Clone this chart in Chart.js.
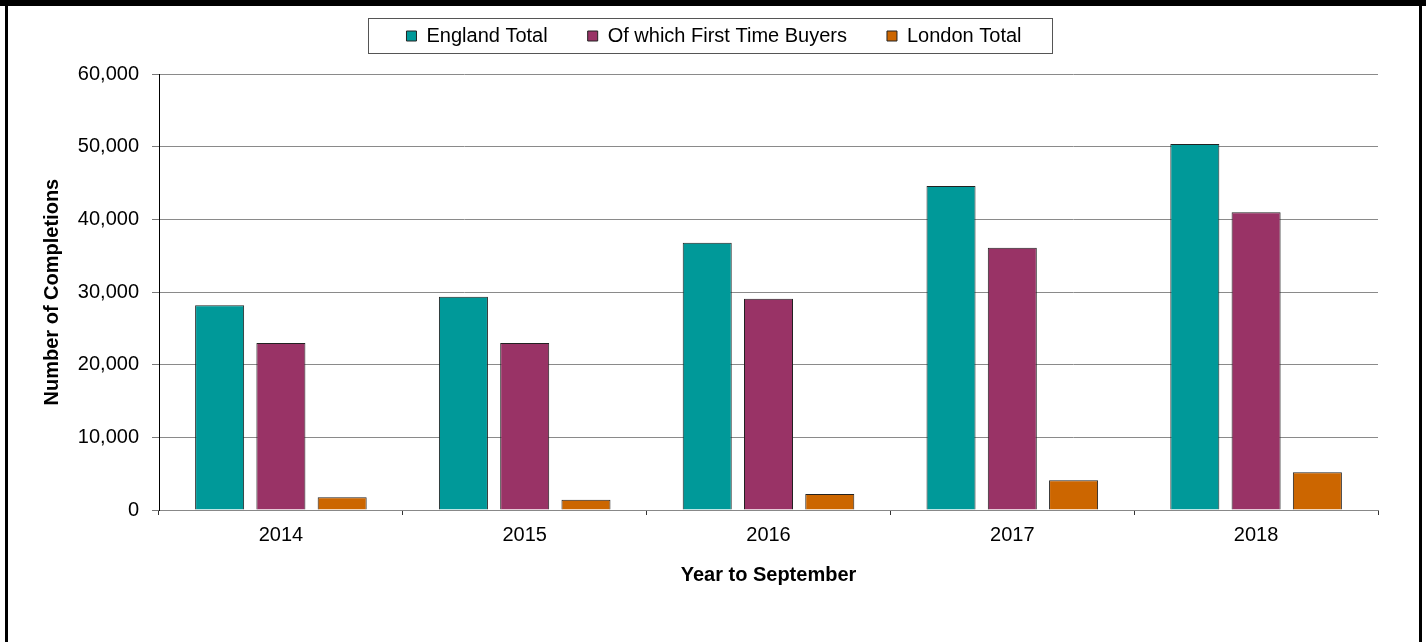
<!DOCTYPE html>
<html lang="en">
<head>
<meta charset="utf-8">
<title>Completions - Year to September</title>
<script src="https://cdn.jsdelivr.net/npm/chart.js@4.4.1/dist/chart.umd.min.js"></script>
<style>
    html, body { margin: 0; padding: 0; background: #fff; }
    #wrap { position: relative; width: 1426px; height: 642px; overflow: hidden; }
    #completionsChart { position: absolute; left: 0; top: 0; }
    .frame { position: absolute; background: #000; pointer-events: none; }
</style>
</head>
<body>
<div id="wrap">
    <canvas id="completionsChart" width="1426" height="642"></canvas>
    <div class="frame" style="left:0;top:0;width:1426px;height:6px;"></div>
    <div class="frame" style="left:5px;top:0;width:3px;height:642px;"></div>
    <div class="frame" style="left:1419px;top:0;width:3px;height:642px;"></div>
</div>
<script>
// values
const years = ['2014', '2015', '2016', '2017', '2018'];
const englandTotal = [28200, 29350, 36800, 44600, 50400];
const firstTimeBuyers = [23000, 23000, 29100, 36100, 41000];
const londonTotal = [1750, 1400, 2200, 4100, 5200];
const yTicks = [0, 10000, 20000, 30000, 40000, 50000, 60000];

(function () {
    'use strict';

    document.addEventListener('DOMContentLoaded', function () {
        const canvas = document.getElementById('completionsChart');
        if (!canvas) {
            return;
        }

        const fontFamily = '"Liberation Sans", Arial, sans-serif';

        // nudges the legend a little right and draws the thin frame round it
        const legendFrame = {
            id: 'legendFrame',
            afterLayout(chart) {
                if (chart.legend) {
                    chart.legend.left += 9;
                    chart.legend.right += 9;
                }
            },
            afterDraw(chart) {
                const boxes = chart.legend && chart.legend.legendHitBoxes;
                if (!boxes || !boxes.length) {
                    return;
                }
                const left = Math.min(...boxes.map(b => b.left)) - 38;
                const right = Math.max(...boxes.map(b => b.left + b.width)) + 31;
                const ctx = chart.ctx;
                ctx.save();
                ctx.strokeStyle = '#555';
                ctx.lineWidth = 1;
                ctx.strokeRect(Math.round(left) + 0.5, 18.5, Math.round(right - left), 35);
                ctx.restore();
            }
        };

        const barStyle = { borderColor: '#222', borderWidth: 1 };

        new Chart(canvas.getContext('2d'), {
            type: 'bar',
            data: {
                labels: years,
                datasets: [
                    Object.assign({ label: 'England Total', data: englandTotal, backgroundColor: '#009999' }, barStyle),
                    Object.assign({ label: 'Of which First Time Buyers', data: firstTimeBuyers, backgroundColor: '#993366' }, barStyle),
                    Object.assign({ label: 'London Total', data: londonTotal, backgroundColor: '#cc6600' }, barStyle)
                ]
            },
            options: {
                responsive: false,
                animation: false,
                categoryPercentage: 0.754,
                barPercentage: 0.8,
                layout: { padding: { left: 32, right: 48, top: -14, bottom: 50 } },
                plugins: {
                    legend: {
                        position: 'top',
                        labels: {
                            boxWidth: 10,
                            boxHeight: 10,
                            padding: 40,
                            color: '#000',
                            font: { family: fontFamily, size: 20 }
                        }
                    },
                    // empty title used as a spacer between legend and plot
                    title: {
                        display: true,
                        text: '',
                        weight: 500,
                        font: { size: 1 },
                        padding: { top: 0, bottom: 17 }
                    },
                    tooltip: { enabled: false }
                },
                scales: {
                    x: {
                        afterFit: function (scale) { scale.height = 82; },
                        grid: { offset: true, drawOnChartArea: false, tickLength: 5, color: '#333' },
                        border: { color: '#888', width: 1 },
                        ticks: { color: '#000', padding: 8, font: { family: fontFamily, size: 20 } },
                        title: {
                            display: true,
                            text: 'Year to September',
                            color: '#000',
                            padding: { top: 0, bottom: 5 },
                            font: { family: fontFamily, size: 20, weight: 'bold' }
                        }
                    },
                    y: {
                        min: 0,
                        max: 60000,
                        afterFit: function (scale) { scale.width = 127; },
                        afterBuildTicks: function (scale) {
                            scale.ticks = yTicks.map(v => ({ value: v }));
                        },
                        grid: { color: '#8a8a8a', tickColor: '#777', tickLength: 7 },
                        border: { color: '#000', width: 1 },
                        ticks: {
                            color: '#000',
                            padding: 13,
                            font: { family: fontFamily, size: 20 },
                            callback: v => v.toLocaleString('en-GB')
                        },
                        title: {
                            display: true,
                            text: 'Number of Completions',
                            color: '#000',
                            padding: { top: 8, bottom: 0 },
                            font: { family: fontFamily, size: 20, weight: 'bold' }
                        }
                    }
                }
            },
            plugins: [legendFrame]
        });
    });
})();
</script>
</body>
</html>
